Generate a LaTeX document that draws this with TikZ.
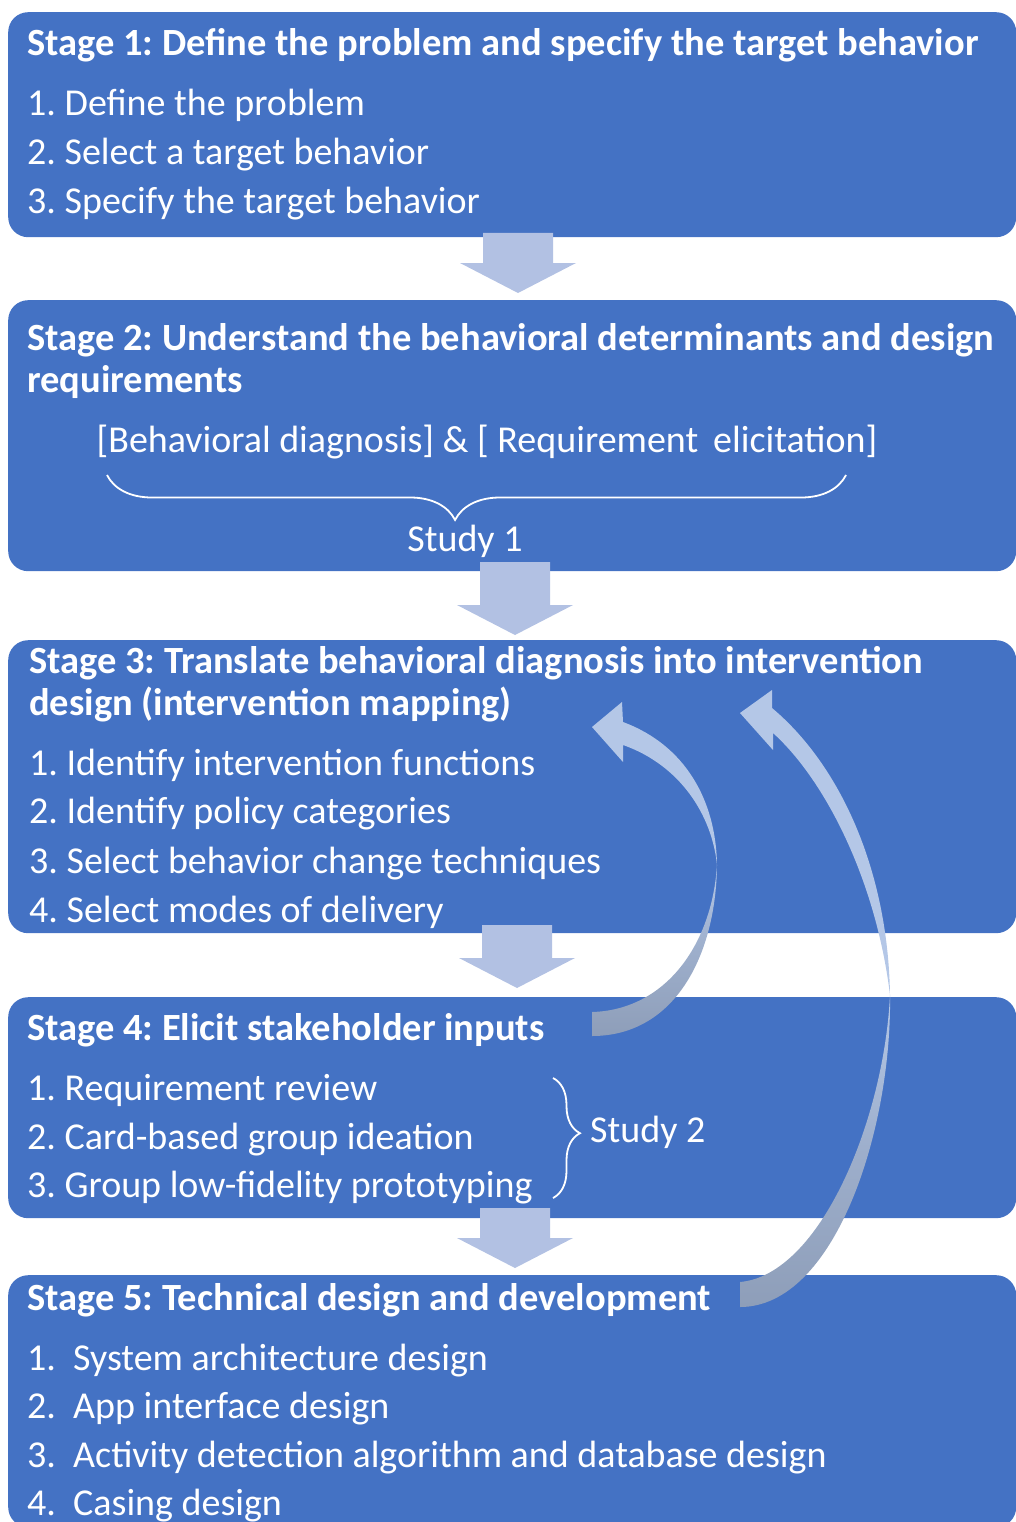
\documentclass[tikz,border=0pt]{standalone}
\usepackage{fontspec}
\setmainfont{Carlito}
\frenchspacing
\usetikzlibrary{decorations.pathreplacing}
\definecolor{boxblue}{HTML}{4472C4}
\definecolor{blockarr}{HTML}{B2C1E3}
\definecolor{curvelight}{HTML}{B4C7E7}
\definecolor{curvedark}{HTML}{8E9EB9}
\newcommand\blkarrow[4]{%
  \fill[blockarr] (#1-35,#2) -- (#1+35,#2) -- (#1+35,#3) -- (#1+58,#3) -- (#1,#4) -- (#1-58,#3) -- (#1-35,#3) -- cycle;}
\begin{document}
\begin{tikzpicture}[x=1pt,y=-1pt,
  stagebox/.style={fill=boxblue, rounded corners=20pt, inner sep=0pt, anchor=north west},
  ttl/.style={anchor=base west, text=white, font=\fontsize{38.5}{44}\selectfont\bfseries, inner sep=0pt},
  item/.style={anchor=base west, text=white, font=\fontsize{38}{44}\selectfont, inner sep=0pt},
  bracestyle/.style={draw=white, line width=1.8pt, decorate},
]
\useasboundingbox (0,0) rectangle (1015,1522);

% boxes
\node[stagebox, minimum width=1008pt, minimum height=225pt] (s1) at (8,12) {};
\node[stagebox, minimum width=1008pt, minimum height=271pt] (s2) at (8,300) {};
\node[stagebox, minimum width=1008pt, minimum height=293pt] (s3) at (8,640) {};
\node[stagebox, minimum width=1008pt, minimum height=221pt] (s4) at (8,997) {};
\node[stagebox, minimum width=1008pt, minimum height=252pt] (s5) at (8,1275) {};

% block arrows
\blkarrow{518}{233}{263}{293}
\blkarrow{515}{562}{605}{635}
\blkarrow{517}{925}{958}{988}
\blkarrow{515}{1208}{1238}{1268}

% Stage 1
\node[ttl] (t1) at (27,56) {Stage 1: Define the problem and specify the target behavior};
\node[item] (i11) at (27,116) {1. Define the problem};
\node[item] (i12) at (27,165) {2. Select a target behavior};
\node[item] (i13) at (27,214) {3. Specify the target behavior};

% Stage 2
\node[ttl] (t2a) at (27,350) {Stage 2: Understand the behavioral determinants and design};
\node[ttl] (t2b) at (27,392) {requirements};
\node[item, anchor=base] (bd) at (487,452) {[Behavioral diagnosis] \& [ Requirement\, elicitation]};
\draw[bracestyle, decoration={brace, mirror, amplitude=45pt, aspect=0.471}] (107,475) -- (846,475);
\node[item, anchor=base] (st1) at (465,551) {Study 1};

% Stage 3
\node[ttl] (t3a) at (29,673) {Stage 3: Translate behavioral diagnosis into intervention};
\node[ttl] (t3b) at (29,715) {design (intervention mapping)};
\node[item] (i31) at (29,775) {1. Identify intervention functions};
\node[item] (i32) at (29,823) {2. Identify policy categories};
\node[item] (i33) at (29,873) {3. Select behavior change techniques};
\node[item] (i34) at (29,922) {4. Select modes of delivery};

% Stage 4
\node[ttl] (t4) at (27,1040) {Stage 4: Elicit stakeholder inputs};
\node[item] (i41) at (27,1100) {1. Requirement review};
\node[item] (i42) at (27,1149) {2. Card-based group ideation};
\node[item] (i43) at (27,1197) {3. Group low-fidelity prototyping};
\draw[bracestyle, decoration={brace, amplitude=27pt, aspect=0.46}] (553,1078) -- (553,1198);
\node[item] (st2) at (590,1142) {Study 2};

% Stage 5
\node[ttl] (t5) at (27,1310) {Stage 5: Technical design and development};
\node[item] (n51) at (27,1370) {1.}; \node[item] (i51) at (73,1370) {System architecture design};
\node[item] (n52) at (27,1418) {2.}; \node[item] (i52) at (73,1418) {App interface design};
\node[item] (n53) at (27,1467) {3.}; \node[item] (i53) at (73,1467) {Activity detection algorithm and database design};
\node[item] (n54) at (27,1515) {4.}; \node[item] (i54) at (73,1515) {Casing design};

% curved arrow Stage 4 -> Stage 3
\shade[top color=curvelight, bottom color=curvedark, middle color=curvedark!60!curvelight]
  (592,1012) .. controls (665,1010) and (712,945) .. (717,865)
  .. controls (716,955) and (675,1036) .. (592,1036) -- cycle;
\fill[curvelight] (717,865) .. controls (716,800) and (685,745) .. (623,722)
  -- (622,702) -- (592,727) -- (623,762) -- (623,745)
  .. controls (680,765) and (712,815) .. (717,865) -- cycle;

% curved arrow Stage 5 -> Stage 3
\shade[top color=curvelight, bottom color=curvedark, middle color=curvedark!60!curvelight]
  (740,1282) .. controls (820,1275) and (884,1120) .. (890,995)
  .. controls (892,1130) and (835,1307) .. (740,1307) -- cycle;
\fill[curvelight] (890,995) .. controls (888,870) and (840,765) .. (772,708)
  -- (772,690) -- (740,713) -- (773,750) -- (773,733)
  .. controls (825,780) and (876,880) .. (890,995) -- cycle;
\end{tikzpicture}
\end{document}
